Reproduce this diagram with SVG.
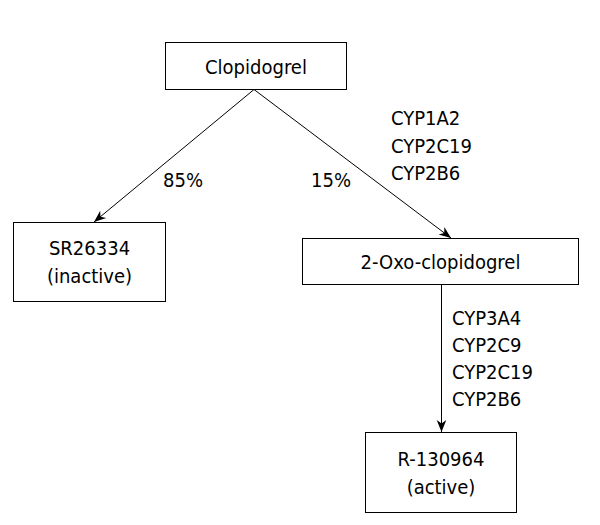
<svg xmlns="http://www.w3.org/2000/svg" width="600" height="525" viewBox="0 0 600 525">
<style>
text{font-family:"DejaVu Sans Condensed","DejaVu Sans",sans-serif;font-size:20px;fill:#000}
.box{fill:#fff;stroke:#000;stroke-width:1}
.c{text-anchor:middle}
.ln{stroke:#000;stroke-width:1;fill:none;marker-end:url(#ah)}
</style>
<defs>
<marker id="ah" viewBox="0 0 10 10" refX="10" refY="5" markerWidth="12" markerHeight="12" markerUnits="userSpaceOnUse" orient="auto">
<path d="M0,1 L10,5 L0,9 L3,5 Z" fill="#000"/>
</marker>
</defs>
<rect width="600" height="525" fill="#fff"/>
<g id="connectors">
<line class="ln" x1="254" y1="89.5" x2="94" y2="222"/>
<line class="ln" x1="254" y1="89.5" x2="451" y2="238"/>
<line class="ln" x1="441.5" y1="285" x2="441.5" y2="432"/>
<text x="163" y="187">85%</text>
<text x="311" y="187">15%</text>
<text x="391" y="125">CYP1A2</text>
<text x="391" y="152.5">CYP2C19</text>
<text x="391" y="180">CYP2B6</text>
<text x="452" y="325">CYP3A4</text>
<text x="452" y="352">CYP2C9</text>
<text x="452" y="379">CYP2C19</text>
<text x="452" y="406">CYP2B6</text>
</g>
<g id="clopidogrel">
<rect class="box" x="165.5" y="42.5" width="181" height="47"/>
<text class="c" x="256" y="74">Clopidogrel</text>
</g>
<g id="sr26334">
<rect class="box" x="13.5" y="222.5" width="152" height="79"/>
<text class="c" x="89.5" y="255">SR26334</text>
<text class="c" x="89.5" y="283">(inactive)</text>
</g>
<g id="oxo">
<rect class="box" x="302.5" y="238.5" width="276" height="46"/>
<text class="c" x="440.5" y="269">2-Oxo-clopidogrel</text>
</g>
<g id="r130964">
<rect class="box" x="365.5" y="432.5" width="151" height="80"/>
<text class="c" x="441" y="466">R-130964</text>
<text class="c" x="441" y="494">(active)</text>
</g>
</svg>
